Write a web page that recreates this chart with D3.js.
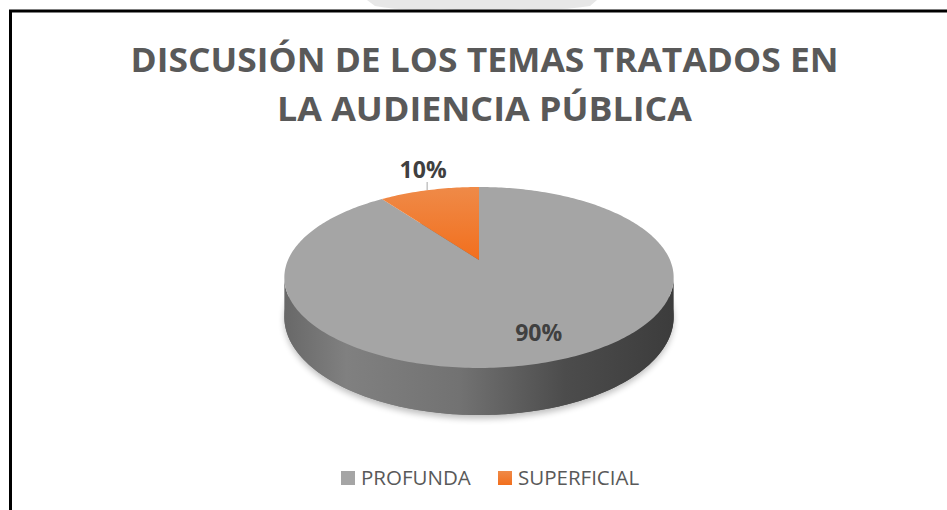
<!DOCTYPE html>
<html>
<head>
<meta charset="utf-8">
<script src="https://cdn.jsdelivr.net/npm/d3@7"></script>
<style>
  html, body { margin: 0; padding: 0; background: #fff; }
  svg { display: block; }
</style>
</head>
<body>
<svg id="chart" width="947" height="510"></svg>
<script>
// ---- data ----
const categories = ["PROFUNDA", "SUPERFICIAL"];
const values = [90, 10];
const labels = ["90%", "10%"];
const titleLines = ["DISCUSIÓN DE LOS TEMAS TRATADOS EN", "LA AUDIENCIA PÚBLICA"];
const colors = ["#a5a5a5", "#ed7d31"];

// ---- setup ----
const svg = d3.select("#chart");
const FONT = "'Open Sans', 'DejaVu Sans', sans-serif";
const defs = svg.append("defs");

// faint watermark at the top
const wm = svg.append("g").attr("opacity", 0.5);
wm.append("path")
  .attr("d", "M367,0 L597,0 L590,6 Q560,11 520,9 Q480,12 440,9 Q400,11 375,6 Z")
  .attr("fill", "#d0d0d0");

// chart frame
svg.append("rect")
  .attr("x", 10.5).attr("y", 11)
  .attr("width", 1000).attr("height", 1000)
  .attr("fill", "none").attr("stroke", "#000").attr("stroke-width", 3);

// ---- title ----
const title = svg.append("g").attr("font-family", FONT).attr("font-weight", 700)
  .attr("fill", "#595959").attr("text-anchor", "middle");
const titleWidths = [708, 415];
titleLines.forEach((t, i) => {
  title.append("text")
    .attr("x", 484.5).attr("y", 72 + i * 49)
    .attr("font-size", 33.5)
    .attr("textLength", titleWidths[i])
    .attr("lengthAdjust", "spacingAndGlyphs")
    .text(t);
});

// ---- 3D pie projection ----
const cx = 479, cy = 260, rx = 191, ry = 87.1, p = 0.193, T = 38;
function proj(theta, f, depth) {
  const u = Math.sin(theta) * f, v = -Math.cos(theta) * f;
  const s = 1 / (1 - p * v);
  return [cx + rx * u * s, cy + (ry * v + depth) * s];
}
const pie = d3.pie().sort(null).value(d => d)(values);

// gradients / filters
const sg = defs.append("linearGradient").attr("id", "sideGrad")
  .attr("gradientUnits", "userSpaceOnUse")
  .attr("x1", cx - rx * 1.02).attr("x2", cx + rx * 1.02).attr("y1", 0).attr("y2", 0);
[[0, "#686868"], [0.16, "#808080"], [0.45, "#727272"], [0.72, "#4c4c4c"], [1, "#3c3c3c"]]
  .forEach(([o, c]) => sg.append("stop").attr("offset", o).attr("stop-color", c));

const og = defs.append("linearGradient").attr("id", "orangeGrad")
  .attr("x1", 0).attr("x2", 0).attr("y1", 0).attr("y2", 1);
og.append("stop").attr("offset", 0).attr("stop-color", "#ef8a48");
og.append("stop").attr("offset", 1).attr("stop-color", "#f26f1d");

defs.append("filter").attr("id", "blur").attr("x", -0.1).attr("y", -0.3).attr("width", 1.2).attr("height", 1.6)
  .append("feGaussianBlur").attr("stdDeviation", 3);

const N = 360;
const angles = d3.range(N + 1).map(i => i / N * 2 * Math.PI);
const bottomPts = angles.map(a => proj(a, 1, T));
// soft shadow
svg.append("path").attr("d", d3.line()(angles.map(a => proj(a, 1, T + 3))) + "Z")
  .attr("fill", "#000").attr("opacity", 0.25).attr("filter", "url(#blur)");
// bottom face
svg.append("path").attr("d", d3.line()(bottomPts) + "Z").attr("fill", "url(#sideGrad)");
// side band (front half)
const aL = Math.PI + Math.acos(p), aR = Math.PI - Math.acos(p);
const front = d3.range(0, 201).map(i => aR + (aL - aR) * i / 200);
const band = front.map(a => proj(a, 1, 0)).concat(front.slice().reverse().map(a => proj(a, 1, T)));
svg.append("path").attr("d", d3.line()(band) + "Z").attr("fill", "url(#sideGrad)");

// top face slices
function slicePath(d) {
  const n = Math.max(2, Math.ceil((d.endAngle - d.startAngle) / (Math.PI / 180)));
  const pts = [proj(0, 0, 0)];
  for (let i = 0; i <= n; i++) pts.push(proj(d.startAngle + (d.endAngle - d.startAngle) * i / n, 1, 0));
  return d3.line()(pts) + "Z";
}
svg.selectAll("path.slice").data(pie).join("path")
  .attr("class", "slice")
  .attr("d", slicePath)
  .attr("fill", (d, i) => i === 1 ? "url(#orangeGrad)" : colors[i]);

// ---- data labels ----
const lab = svg.append("g").attr("font-family", FONT).attr("font-weight", 700)
  .attr("fill", "#404040").attr("text-anchor", "middle").attr("font-size", 23);
pie.forEach((d, i) => {
  const mid = (d.startAngle + d.endAngle) / 2;
  if (d.endAngle - d.startAngle > 1) {
    const [x, y] = proj(mid, 0.78, 0);
    lab.append("text").attr("x", x + 6).attr("y", y + 6).text(labels[i]);
  } else {
    const [x, y] = proj(mid, 1, 0);
    svg.append("line").attr("x1", x - 2).attr("x2", x - 2).attr("y1", y).attr("y2", y - 8)
      .attr("stroke", "#a6a6a6").attr("stroke-width", 1);
    lab.append("text").attr("x", x - 6).attr("y", y - 12).text(labels[i]);
  }
});

// ---- legend ----
const legend = svg.append("g").attr("font-family", FONT).attr("font-size", 20.5).attr("fill", "#595959");
const legX = [341, 498];
categories.forEach((c, i) => {
  legend.append("rect").attr("x", legX[i]).attr("y", 471).attr("width", 14).attr("height", 14)
    .attr("fill", i === 1 ? "url(#orangeGrad)" : colors[i]);
  legend.append("text").attr("x", legX[i] + 20).attr("y", 485).text(c);
});
</script>
</body>
</html>
